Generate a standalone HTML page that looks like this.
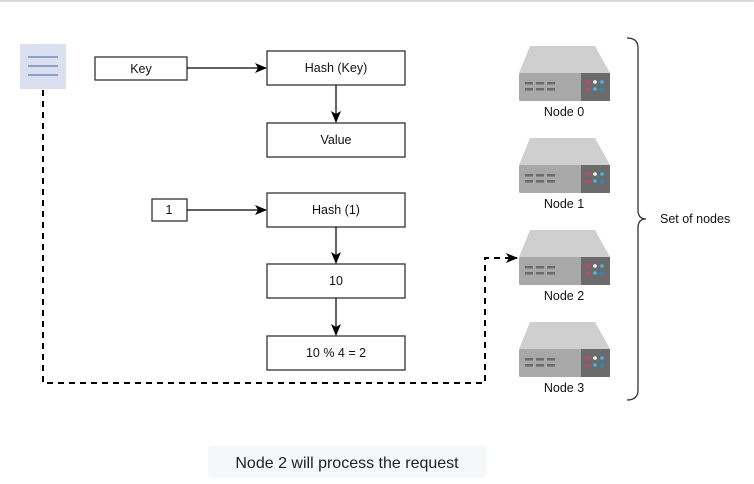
<!DOCTYPE html>
<html><head><meta charset="utf-8"><style>
html,body{margin:0;padding:0;background:#fff;}
body{width:754px;height:484px;overflow:hidden;position:relative;font-family:"Liberation Sans",sans-serif;}
</style></head><body>
<svg width="754" height="484" viewBox="0 0 754 484" xmlns="http://www.w3.org/2000/svg" style="position:absolute;left:0;top:0">
<defs>
<marker id="ah" markerWidth="12" markerHeight="12" refX="11" refY="6" orient="auto" markerUnits="userSpaceOnUse">
<path d="M0,1 L12,6 L0,11 L3,6 Z" fill="#000"/></marker>
<g id="srv">
<path d="M11,0 L76,0 L91,27 L0,27 Z" fill="#cfcfcf"/>
<rect x="0" y="27" width="91" height="28" rx="1.5" fill="#a8a8a8"/>
<rect x="62" y="27" width="29" height="28" fill="#6b6b6b"/>
<g fill="#6b6b6b"><rect x="6" y="36" width="8" height="2.5"/><rect x="17" y="36" width="8" height="2.5"/><rect x="28" y="36" width="8" height="2.5"/>
<rect x="6" y="42" width="8" height="2.5"/><rect x="17" y="42" width="8" height="2.5"/><rect x="28" y="42" width="8" height="2.5"/></g>
<circle cx="69" cy="36" r="1.8" fill="#e8336b"/><circle cx="76" cy="36" r="1.8" fill="#fff"/><circle cx="83" cy="36" r="1.8" fill="#36c0ee"/>
<circle cx="69" cy="43" r="1.8" fill="#e8336b"/><circle cx="76" cy="43" r="1.8" fill="#36c0ee"/><circle cx="83" cy="43" r="1.8" fill="#1a8fd6"/>
</g>
</defs>
<line x1="0" y1="1" x2="754" y2="1" stroke="#d5dbe3" stroke-width="2"/>
<rect x="20" y="44" width="46" height="45" fill="#dae0f0"/>
<g stroke="#6c8ebf" stroke-width="1.5"><line x1="28" y1="57" x2="58" y2="57"/><line x1="28" y1="66" x2="58" y2="66"/><line x1="28" y1="75" x2="58" y2="75"/></g>
<g fill="#fff" stroke="#333" stroke-width="1.3">
<rect x="95" y="57" width="92" height="23"/>
<rect x="267" y="51" width="138" height="34"/>
<rect x="267" y="123" width="138" height="34"/>
<rect x="152" y="199" width="35" height="22"/>
<rect x="267" y="193" width="138" height="34"/>
<rect x="267" y="264" width="138" height="34"/>
<rect x="267" y="336" width="138" height="34"/>
</g>
<g stroke="#000" stroke-width="1.2" fill="none">
<line x1="187" y1="68" x2="266" y2="68" marker-end="url(#ah)"/>
<line x1="336" y1="85" x2="336" y2="122" marker-end="url(#ah)"/>
<line x1="187" y1="210" x2="266" y2="210" marker-end="url(#ah)"/>
<line x1="336" y1="227" x2="336" y2="263" marker-end="url(#ah)"/>
<line x1="336" y1="298" x2="336" y2="335" marker-end="url(#ah)"/>
</g>
<path d="M43,90 L43,383 L485,383 L485,258 L517,258" fill="none" stroke="#000" stroke-width="2" stroke-dasharray="6,5" marker-end="url(#ah)"/>
<g font-size="12.5" text-anchor="middle" fill="#111">
<text x="141" y="73">Key</text>
<text x="336" y="72">Hash (Key)</text>
<text x="336" y="144">Value</text>
<text x="169" y="214">1</text>
<text x="336" y="214">Hash (1)</text>
<text x="336" y="285">10</text>
<text x="336" y="357">10 % 4 = 2</text>
</g>
<use href="#srv" x="519" y="46"/>
<use href="#srv" x="519" y="138"/>
<use href="#srv" x="519" y="230"/>
<use href="#srv" x="519" y="322"/>
<g font-size="12.5" text-anchor="middle" fill="#111">
<text x="564" y="116">Node 0</text>
<text x="564" y="208">Node 1</text>
<text x="564" y="300">Node 2</text>
<text x="564" y="392">Node 3</text>
</g>
<path d="M627,38 Q638,38 638,48 L638,210 Q638,219 646,219 Q638,219 638,228 L638,390 Q638,400 627,400" fill="none" stroke="#333" stroke-width="1.3"/>
<text x="660" y="223" font-size="12.5" fill="#111">Set of nodes</text>
<rect x="208" y="446" width="278" height="32" rx="3" fill="#f6f7f8"/>
<text x="347" y="468" font-size="16" text-anchor="middle" fill="#222">Node 2 will process the request</text>
</svg>
</body></html>
